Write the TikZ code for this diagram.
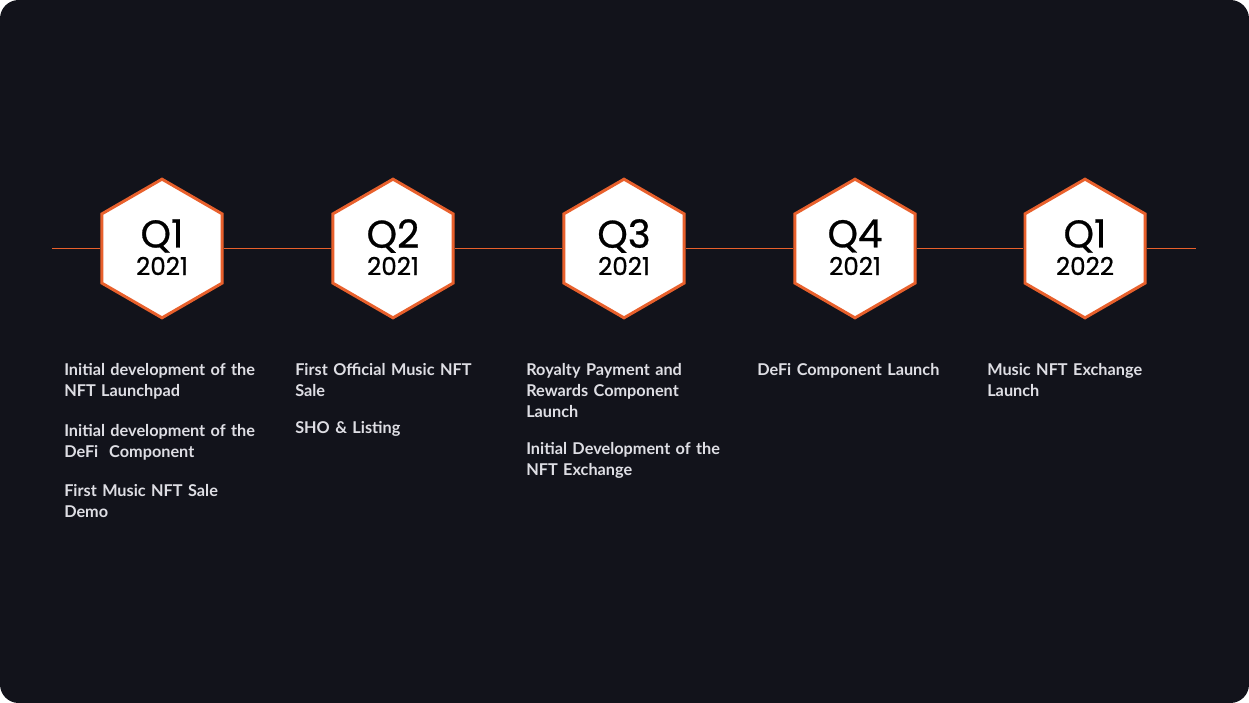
\documentclass[tikz,border=0pt]{standalone}
\usepackage{fontspec}
\setmainfont{Poppins}
\newfontfamily\hexfont{Poppins}[FakeBold=0.7]
\newfontfamily\labelfont{Lato}
\usetikzlibrary{calc, positioning, shapes.geometric}
\definecolor{bgdark}{HTML}{12131B}
\definecolor{accent}{HTML}{E8602C}
\definecolor{labelgray}{HTML}{DEDEE4}

\tikzset{
    hexnode/.style={regular polygon, regular polygon sides=6, shape border rotate=30,
        draw=accent, line width=2.2pt, fill=white, minimum size=104pt, inner sep=0pt},
    quarter/.style={font=\hexfont\fontsize{29}{29}\selectfont, text=black, inner sep=0pt},
    yeartext/.style={font=\hexfont\fontsize{18.5}{18.5}\selectfont, text=black, inner sep=0pt},
    item/.style={font=\labelfont\bfseries\fontsize{12.2}{15.75}\selectfont, text=labelgray,
        text width=170pt, align=left, inner sep=0pt, anchor=north west},
    tline/.style={draw=accent, line width=1.2pt}
}

\begin{document}
\begin{tikzpicture}[x=0.75pt, y=-0.75pt]
% background card
\fill[white] (0,0) rectangle (1249,703);
\fill[bgdark, rounded corners=14pt] (0,0) rectangle (1249,703);

% timeline ends
\coordinate (start) at (52,248.5);
\coordinate (stop) at (1196,248.5);

% quarters
\node[hexnode] (h1) at (162,248.5) {};
\node[hexnode] (h2) at (393,248.5) {};
\node[hexnode] (h3) at (624,248.5) {};
\node[hexnode] (h4) at (855,248.5) {};
\node[hexnode] (h5) at (1085,248.5) {};

\draw[tline] (start) -- (h1);
\draw[tline] (h1) -- (h2);
\draw[tline] (h2) -- (h3);
\draw[tline] (h3) -- (h4);
\draw[tline] (h4) -- (h5);
\draw[tline] (h5) -- (stop);

\foreach \h/\q/\yr in {h1/Q1/2021, h2/Q2/2021, h3/Q3/2021, h4/Q4/2021, h5/Q1/2022} {
    \node[quarter] (\h q) at ($(\h)+(0,-12.5)$) {\q};
    \node[yeartext] (\h y) at ($(\h)+(0,17.5)$) {\yr};
}

% milestones
\node[item] (m1a) at (64,363.5) {Initial development of the\\NFT Launchpad};
\node[item, below=18pt of m1a.south west, anchor=north west] (m1b) {Initial development of the\\DeFi\ \ Component};
\node[item, below=18pt of m1b.south west, anchor=north west] (m1c) {First Music NFT Sale\\Demo};

\node[item] (m2a) at (295,363.5) {First Official Music NFT\\Sale};
\node[item, below=18pt of m2a.south west, anchor=north west] (m2b) {SHO \& Listing};

\node[item] (m3a) at (526,363.5) {Royalty Payment and\\Rewards Component\\Launch};
\node[item, below=18pt of m3a.south west, anchor=north west] (m3b) {Initial Development of the\\NFT Exchange};

\node[item] (m4a) at (757,363.5) {DeFi Component Launch};

\node[item] (m5a) at (987,363.5) {Music NFT Exchange\\Launch};
\end{tikzpicture}
\end{document}
